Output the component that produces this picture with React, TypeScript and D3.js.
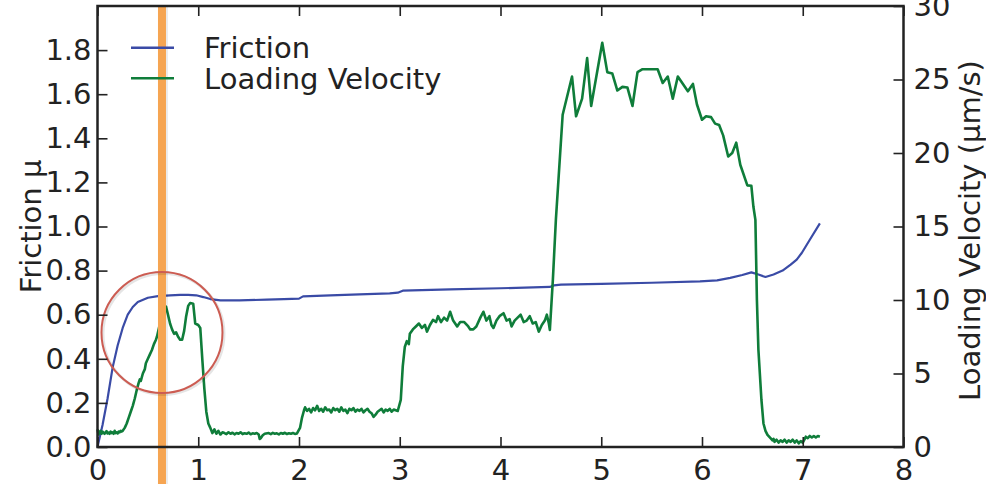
import React, { useEffect, useRef } from "react";
import * as d3 from "d3";

// friction (left axis): time, value
const frictionT = [0, 0.01, 0.05, 0.1, 0.15, 0.2, 0.25, 0.3, 0.35, 0.4, 0.5, 0.6, 0.72, 0.82, 0.9, 0.98, 1.05, 1.12, 1.22, 1.41, 1.68, 1.85, 2.0, 2.04, 2.31, 2.6, 2.9, 2.98, 3.03, 3.5, 4.0, 4.49, 4.53, 4.6, 5.0, 5.5, 5.98, 6.15, 6.28, 6.4, 6.49, 6.56, 6.63, 6.71, 6.8, 6.88, 6.94, 6.99, 7.07, 7.17];
const friction = [0.0, 0.02, 0.1, 0.22, 0.36, 0.46, 0.54, 0.6, 0.635, 0.658, 0.677, 0.684, 0.688, 0.69, 0.69, 0.688, 0.68, 0.671, 0.665, 0.665, 0.668, 0.671, 0.673, 0.683, 0.688, 0.692, 0.697, 0.7, 0.709, 0.715, 0.72, 0.726, 0.733, 0.736, 0.74, 0.745, 0.751, 0.756, 0.767, 0.78, 0.792, 0.782, 0.771, 0.782, 0.8, 0.827, 0.85, 0.88, 0.94, 1.014];

// loading velocity (right axis), [time, value] by phase
const velStart = [
  [0.0, 1.2], [0.01, 0.85], [0.02, 1.0], [0.03, 1.1], [0.04, 0.9], [0.05, 1.05], [0.06, 0.95], [0.07, 0.9], [0.08, 1.0], [0.09, 1.08],
  [0.1, 0.92], [0.11, 0.98], [0.12, 0.9], [0.13, 1.05], [0.14, 0.95], [0.15, 1.0], [0.16, 0.9], [0.17, 1.1], [0.18, 0.95], [0.19, 1.0],
  [0.2, 0.92], [0.21, 1.05], [0.22, 1.0], [0.23, 1.1], [0.24, 1.05],
  [0.25, 1.1], [0.27, 1.3], [0.29, 1.6], [0.31, 2.0], [0.33, 2.4], [0.35, 2.8], [0.37, 3.3], [0.39, 3.9], [0.41, 4.4], [0.42, 4.6],
  [0.43, 4.5], [0.45, 5.0], [0.47, 5.3], [0.48, 5.7], [0.5, 6.0], [0.52, 6.3], [0.54, 6.6], [0.56, 7.0], [0.58, 7.3], [0.59, 7.5],
  [0.62, 8.4], [0.65, 9.4], [0.68, 9.55], [0.7, 9.0], [0.72, 8.4], [0.74, 8.0], [0.76, 7.7], [0.78, 7.8], [0.8, 7.5], [0.82, 7.3],
  [0.84, 7.3], [0.86, 7.9], [0.88, 8.9], [0.9, 9.6], [0.92, 9.8], [0.95, 9.75], [0.97, 8.4], [1.0, 8.3], [1.02, 8.1], [1.04, 6.0],
  [1.06, 4.0], [1.08, 2.4], [1.1, 1.6], [1.12, 1.3],
];
const velFlat1 = [
  [1.14, 0.95], [1.16, 1.2], [1.18, 0.9], [1.2, 1.1], [1.22, 0.85], [1.24, 1.0], [1.26, 0.95], [1.28, 0.88], [1.3, 1.0], [1.32, 0.9],
  [1.34, 0.97], [1.36, 0.86], [1.38, 0.95], [1.4, 0.9], [1.42, 1.0], [1.44, 0.88], [1.46, 0.94], [1.48, 0.9], [1.5, 0.98], [1.52, 0.87],
  [1.54, 0.93], [1.56, 0.9], [1.58, 0.95], [1.6, 0.85], [1.61, 0.55], [1.62, 0.6], [1.64, 0.8], [1.66, 0.9], [1.7, 0.95], [1.72, 0.88],
  [1.74, 0.96], [1.76, 0.9], [1.78, 0.93], [1.8, 0.86], [1.82, 0.95], [1.84, 0.9], [1.86, 0.97], [1.88, 0.88], [1.9, 0.93], [1.92, 0.9],
  [1.94, 0.95], [1.96, 0.89], [1.98, 0.92],
];
const velFlat2 = [
  [2.01, 1.3], [2.03, 2.0], [2.05, 2.5],
  [2.06, 2.7], [2.08, 2.45], [2.1, 2.6], [2.12, 2.35], [2.14, 2.65], [2.16, 2.5], [2.18, 2.8], [2.2, 2.45], [2.22, 2.6], [2.24, 2.4],
  [2.26, 2.7], [2.28, 2.5], [2.3, 2.55], [2.32, 2.35], [2.34, 2.65], [2.36, 2.5], [2.38, 2.6], [2.4, 2.4], [2.42, 2.7], [2.44, 2.45],
  [2.46, 2.55], [2.48, 2.3], [2.5, 2.6], [2.52, 2.5], [2.54, 2.65], [2.56, 2.4], [2.58, 2.55], [2.6, 2.45], [2.62, 2.6], [2.64, 2.35],
  [2.66, 2.5], [2.68, 2.6], [2.7, 2.4], [2.72, 2.3], [2.74, 2.05], [2.76, 2.2], [2.78, 2.4], [2.8, 2.5], [2.82, 2.6], [2.84, 2.35],
  [2.86, 2.55], [2.88, 2.45], [2.9, 2.6], [2.92, 2.4], [2.94, 2.55], [2.96, 2.5], [2.98, 2.45],
];
const velFlat3 = [
  [3.01, 3.2], [3.03, 5.5], [3.05, 6.8], [3.07, 7.2], [3.09, 7.0], [3.1, 7.7], [3.13, 8.0], [3.16, 8.2], [3.19, 8.4], [3.22, 8.1],
  [3.25, 8.3], [3.27, 7.85], [3.3, 8.3], [3.33, 8.65], [3.36, 8.5], [3.38, 8.9], [3.41, 8.5], [3.44, 8.8], [3.47, 8.6], [3.5, 9.2],
  [3.53, 8.6], [3.55, 8.4], [3.57, 8.2], [3.6, 8.5], [3.64, 8.5], [3.68, 8.2], [3.7, 8.0], [3.73, 8.0], [3.76, 8.2], [3.8, 8.8],
  [3.83, 9.2], [3.86, 8.6], [3.89, 8.9], [3.91, 8.3], [3.93, 8.1], [3.96, 8.6], [3.99, 8.9], [4.03, 9.1], [4.06, 8.6], [4.09, 8.7],
  [4.11, 8.2], [4.14, 8.6], [4.17, 8.8], [4.2, 9.0], [4.23, 8.5], [4.26, 8.6], [4.29, 8.9], [4.32, 8.4], [4.35, 8.5], [4.38, 7.85],
  [4.41, 8.3], [4.44, 8.6], [4.46, 9.0], [4.48, 8.4], [4.49, 7.96],
];
const velPeak = [
  [4.52, 11.4], [4.55, 15.5], [4.617, 22.6], [4.71, 25.2], [4.75, 22.5], [4.81, 23.7], [4.86, 26.46], [4.9, 23.2], [5.01, 27.5], [5.06, 25.5],
  [5.11, 25.4], [5.16, 24.25], [5.21, 24.5], [5.26, 24.45], [5.31, 23.2], [5.36, 25.5], [5.41, 25.7], [5.56, 25.7], [5.61, 24.76], [5.66, 25.2],
  [5.71, 23.7], [5.76, 25.2], [5.86, 24.2], [5.91, 24.7], [5.95, 23.3], [6.0, 22.26], [6.04, 22.5], [6.09, 22.44], [6.13, 22.0], [6.17, 21.9],
  [6.21, 21.2], [6.26, 19.76], [6.3, 20.0], [6.34, 20.7], [6.38, 19.2], [6.45, 17.8], [6.49, 17.77], [6.51, 16.36], [6.53, 15.45],
];
const velEnd = [
  [6.545, 10.0], [6.56, 6.6], [6.59, 3.2], [6.61, 1.6], [6.63, 1.1], [6.65, 0.82], [6.68, 0.6], [6.7, 0.45], [6.71, 0.55], [6.72, 0.35],
  [6.74, 0.5], [6.76, 0.3], [6.78, 0.45], [6.8, 0.35], [6.82, 0.5], [6.84, 0.3], [6.86, 0.45], [6.88, 0.35], [6.9, 0.5], [6.92, 0.3],
  [6.94, 0.45], [6.96, 0.25], [6.98, 0.4], [7.0, 0.3], [7.02, 0.55], [7.03, 0.7], [7.05, 0.6], [7.07, 0.75], [7.09, 0.65], [7.11, 0.75],
  [7.13, 0.65], [7.15, 0.75], [7.17, 0.7],
];

const xTicks = [0, 1, 2, 3, 4, 5, 6, 7, 8];
const leftTicks = [0, 0.2, 0.4, 0.6, 0.8, 1.0, 1.2, 1.4, 1.6, 1.8];
const rightTicks = [0, 5, 10, 15, 20, 25, 30];
const seriesNames = ["Friction", "Loading Velocity"];
const markerT = 0.64;

const W = 986;
const H = 484;
const FONT = "DejaVu Sans, sans-serif";
const FS = "29px";
const INK = "#222";
const BLUE = "#3a4ba6";
const GREEN = "#0f7d3a";

export default function App() {
  const ref = useRef<SVGSVGElement>(null);

  useEffect(() => {
    const svg = d3.select(ref.current);
    svg.selectAll("*").remove();

    const left = 97.5, right = 903.5, top = 6, bottom = 447;

    const x = d3.scaleLinear().domain([0, 8]).range([left, right]);
    const yL = d3.scaleLinear().domain([0, 2]).range([bottom, top]);
    const yR = d3.scaleLinear().domain([0, 30]).range([bottom, top]);

    // friction
    const fLine = d3.line<number>().x((d, i) => x(frictionT[i])).y((d) => yL(d));
    svg.append("path").attr("d", fLine(friction)).attr("fill", "none")
      .attr("stroke", BLUE).attr("stroke-width", 2.2).attr("stroke-linejoin", "round");

    // velocity
    const velocity = [...velStart, ...velFlat1, ...velFlat2, ...velFlat3, ...velPeak, ...velEnd];
    const vLine = d3.line<number[]>().x((d) => x(d[0])).y((d) => yR(d[1]));
    svg.append("path").attr("d", vLine(velocity)).attr("fill", "none")
      .attr("stroke", GREEN).attr("stroke-width", 2.6).attr("stroke-linejoin", "round");

    // marker band
    const mx = x(markerT);
    svg.append("rect").attr("x", mx - 3).attr("y", top).attr("width", 9).attr("height", H)
      .attr("fill", "#000").attr("opacity", 0.08);
    svg.append("rect").attr("x", mx - 4).attr("y", top).attr("width", 8).attr("height", H)
      .attr("fill", "#f6a552");

    // circle highlight
    const cx = mx, cy = 332.5, r = 60.5;
    svg.append("circle").attr("cx", cx + 1.5).attr("cy", cy + 1.5).attr("r", r)
      .attr("fill", "none").attr("stroke", "#000").attr("stroke-opacity", 0.1).attr("stroke-width", 3);
    svg.append("circle").attr("cx", cx).attr("cy", cy).attr("r", r)
      .attr("fill", "none").attr("stroke", "#cc5c52").attr("stroke-width", 2);

    // axes
    const styleAxis = (g: any) => {
      g.select(".domain").remove();
      g.selectAll("line").attr("stroke", INK).attr("stroke-width", 1.6);
      g.selectAll("text").attr("fill", INK).style("font-family", FONT).style("font-size", FS);
    };
    svg.append("g").attr("transform", `translate(0,${bottom})`)
      .call(d3.axisBottom(x).tickValues(xTicks).tickSize(-10).tickPadding(12).tickFormat(d3.format("d")))
      .call(styleAxis);
    svg.append("g").attr("transform", `translate(0,${top})`)
      .call(d3.axisTop(x).tickValues(xTicks).tickSize(-10).tickFormat(() => ""))
      .call(styleAxis);
    svg.append("g").attr("transform", `translate(${left},0)`)
      .call(d3.axisLeft(yL).tickValues(leftTicks).tickSize(-10).tickPadding(6).tickFormat(d3.format(".1f")))
      .call(styleAxis);
    svg.append("g").attr("transform", `translate(${right},0)`)
      .call(d3.axisRight(yR).tickValues(rightTicks).tickSize(-10).tickPadding(10).tickFormat(d3.format("d")))
      .call(styleAxis);

    // frame
    svg.append("rect").attr("x", left).attr("y", top).attr("width", right - left).attr("height", bottom - top)
      .attr("fill", "none").attr("stroke", INK).attr("stroke-width", 2.5);

    // axis titles
    svg.append("text").attr("transform", `translate(41,${(top + bottom) / 2}) rotate(-90)`)
      .attr("text-anchor", "middle").style("font-family", FONT).style("font-size", FS)
      .attr("fill", INK).text("Friction μ");
    svg.append("text").attr("transform", `translate(980,${(top + bottom) / 2 + 4}) rotate(-90)`)
      .attr("text-anchor", "middle").style("font-family", FONT).style("font-size", FS)
      .attr("fill", INK).text("Loading Velocity (μm/s)");

    // legend
    const legend = svg.append("g");
    [BLUE, GREEN].forEach((c, i) => {
      const ly = 47.7 + i * 30.5;
      legend.append("line").attr("x1", 131).attr("x2", 174).attr("y1", ly).attr("y2", ly)
        .attr("stroke", c).attr("stroke-width", 2.5);
      legend.append("text").attr("x", 204).attr("y", ly).attr("dy", "0.36em")
        .style("font-family", FONT).style("font-size", FS).attr("fill", INK).text(seriesNames[i]);
    });
  }, []);

  return (
    <svg ref={ref} width={W} height={H}
      style={{ position: "absolute", left: 0, top: 0, background: "#fff" }} />
  );
}
